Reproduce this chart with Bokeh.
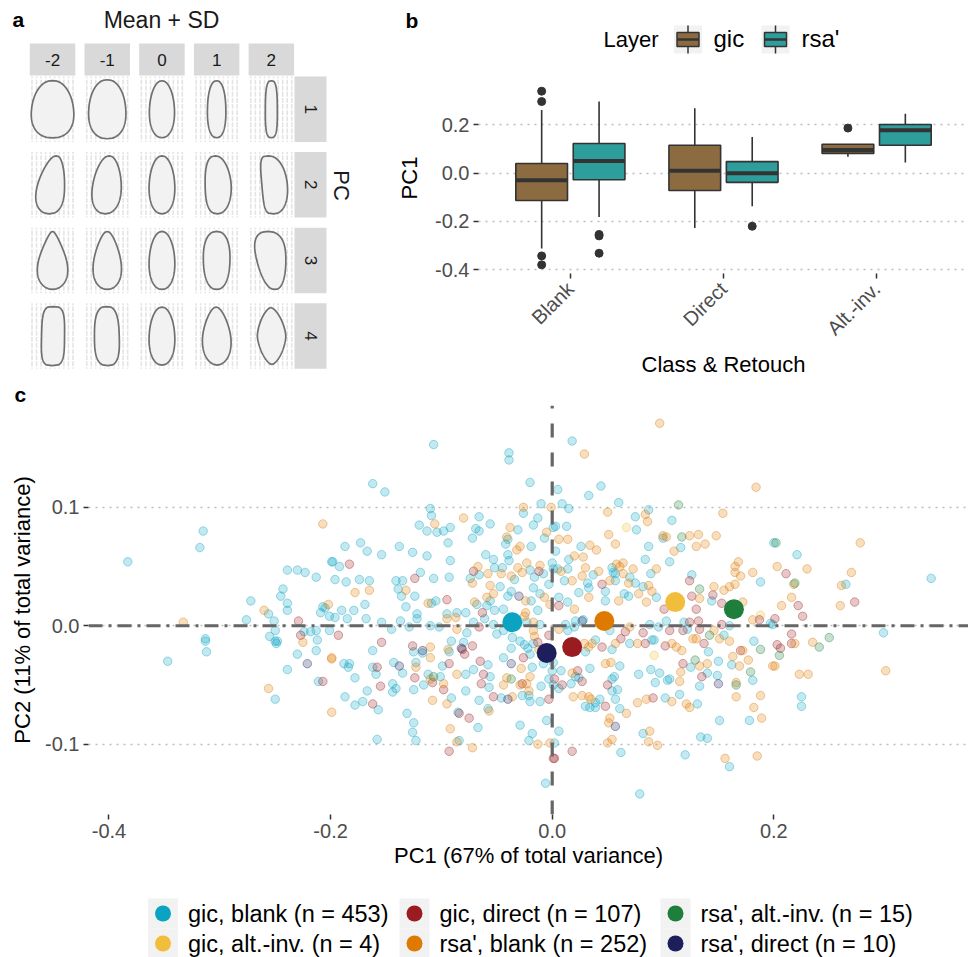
import math
import numpy as np
from bokeh.plotting import figure
from bokeh.models import Range1d, FixedTicker, PrintfTickFormatter
from bokeh.layouts import column, row
from bokeh.embed import file_html
from bokeh.resources import INLINE
from bokeh.core.properties import value

FONT = "Liberation Sans"
TF = value(FONT)

# =================== DATA ===================
# ---- panel a: mean shape +/- SD along PC1..PC4 ----
sd_labels = ["-2", "-1", "0", "1", "2"]
pc_labels = ["1", "2", "3", "4"]
# outline descriptors (rows = PC, cols = SD), in pixels
shape_wl = [[21.0, 18.5, 12.5, 9.2, 6.0],
            [15.0, 14.5, 12.8, 11.5, 9.5],
            [14.0, 13.5, 12.8, 13.3, 14.5],
            [11.0, 12.8, 12.8, 14.0, 14.0]]
shape_wr = [[21.0, 18.5, 12.5, 9.2, 6.0],
            [12.0, 14.0, 12.8, 14.5, 16.0],
            [14.0, 13.5, 12.8, 13.3, 14.5],
            [12.0, 12.0, 12.8, 14.0, 14.5]]
shape_pl = [[2.2, 2.2, 2.1, 2.3, 3.0],
            [2.0, 2.1, 2.1, 2.6, 4.0],
            [1.9, 2.0, 2.1, 2.3, 2.4],
            [3.6, 2.8, 2.1, 1.9, 1.55]]
shape_pr = [[2.2, 2.2, 2.1, 2.3, 3.0],
            [2.4, 2.1, 2.1, 2.0, 2.1],
            [1.9, 2.0, 2.1, 2.3, 2.4],
            [3.6, 2.8, 2.1, 1.9, 1.55]]
shape_taper = [[-0.14, -0.11, -0.10, -0.06, -0.03],
               [-0.30, -0.20, -0.10, -0.05, 0.00],
               [-0.50, -0.35, -0.10, 0.05, 0.25],
               [-0.02, -0.04, -0.10, -0.25, 0.00]]
shape_lean = [[0.0, 0.0, 0.0, 0.0, 0.0],
              [3.5, 2.0, 0.0, -1.0, -2.5],
              [0.0, 0.0, 0.0, 0.0, -3.5],
              [0.5, -0.5, 0.0, -0.5, -0.5]]
shape_hh = [[28.7, 29.5, 28.5, 28.5, 28.5],
            [29.0, 29.0, 29.0, 29.0, 29.0],
            [29.0, 29.0, 29.0, 29.0, 29.0],
            [29.5, 29.5, 29.0, 29.0, 28.5]]

# ---- panel b: boxplot statistics of PC1 ----
box_classes = ["Blank", "Direct", "Alt.-inv."]
layers = ["gic", "rsa'"]
layer_colors = ["#8D6B41", "#2E9E9C"]
gic_lower = [-0.312, -0.227, 0.068]
gic_q1 = [-0.113, -0.072, 0.082]
gic_median = [-0.029, 0.010, 0.096]
gic_q3 = [0.040, 0.116, 0.120]
gic_upper = [0.262, 0.269, 0.120]
rsa_lower = [-0.182, -0.137, 0.044]
rsa_q1 = [-0.027, -0.038, 0.116]
rsa_median = [0.051, 0.000, 0.178]
rsa_q3 = [0.123, 0.048, 0.202]
rsa_upper = [0.297, 0.150, 0.246]
gic_out_class = [0, 0, 0, 0, 2]
gic_out_val = [0.340, 0.297, -0.343, -0.380, 0.187]
rsa_out_class = [0, 0, 0, 1]
rsa_out_val = [-0.254, -0.260, -0.332, -0.220]

# ---- panel c: PCA scores ----
group_labels = ["gic, blank (n = 453)", "gic, alt.-inv. (n = 4)", "gic, direct (n = 107)",
                "rsa', blank (n = 252)", "rsa', alt.-inv. (n = 15)", "rsa', direct (n = 10)"]
group_colors = ["#0AA4C2", "#F1BE3C", "#9B1C20", "#DE7A00", "#1F7E3C", "#1C1F5C"]
mean_pc1 = [-0.036, 0.111, 0.018, 0.047, 0.164, -0.005]
mean_pc2 = [0.003, 0.020, -0.018, 0.004, 0.014, -0.023]

gic_blank = [
    (-0.383, 0.054), (-0.315, 0.080), (-0.318, 0.066), (-0.313, -0.011), (-0.313, -0.013), (-0.312, -0.022),
    (-0.347, -0.030), (-0.272, 0.021), (-0.276, 0.005), (-0.256, 0.010), (-0.251, 0.004), (-0.250, -0.004),
    (-0.255, -0.009), (-0.250, -0.013), (-0.248, -0.013), (-0.249, -0.015), (-0.245, 0.025), (-0.243, 0.031),
    (-0.239, 0.019), (-0.239, 0.013), (-0.239, 0.047), (-0.230, 0.047), (-0.223, 0.045), (-0.213, 0.041),
    (-0.224, -0.005), (-0.218, -0.005), (-0.213, -0.004), (-0.212, -0.012), (-0.230, -0.024), (-0.213, -0.021),
    (-0.239, -0.037), (-0.250, -0.062), (-0.211, -0.047), (-0.199, 0.054), (-0.207, 0.016), (-0.205, 0.015),
    (-0.209, 0.011), (-0.201, 0.008), (-0.201, -0.004),
    (-0.107, 0.153), (-0.039, 0.146), (-0.039, 0.140), (-0.162, 0.120), (-0.151, 0.113), (-0.020, 0.121),
    (-0.010, 0.103), (-0.110, 0.099), (-0.109, 0.093), (-0.026, 0.095), (-0.013, 0.091), (-0.017, 0.085),
    (-0.066, 0.092), (-0.056, 0.086), (-0.069, 0.082), (-0.066, 0.080), (-0.120, 0.085), (-0.113, 0.080),
    (-0.104, 0.079), (-0.098, 0.080), (-0.092, 0.083), (-0.094, 0.070), (-0.072, 0.074), (-0.031, 0.081),
    (-0.040, 0.073), (-0.042, 0.069), (-0.019, 0.067), (-0.007, 0.074), (0.001, 0.083), (-0.187, 0.067),
    (-0.173, 0.070), (-0.167, 0.063), (-0.154, 0.060), (-0.138, 0.067), (-0.126, 0.062), (-0.113, 0.059),
    (-0.092, 0.055), (-0.060, 0.060), (-0.053, 0.056), (-0.040, 0.060), (-0.039, 0.055), (0.000, 0.053),
    (-0.198, 0.054), (-0.192, 0.050), (-0.196, 0.039), (-0.186, 0.037), (-0.174, 0.039), (-0.165, 0.038),
    (-0.141, 0.038), (-0.135, 0.038), (-0.139, 0.031), (-0.136, 0.025), (-0.119, 0.045), (-0.107, 0.040),
    (-0.093, 0.041), (-0.124, 0.025), (-0.109, 0.019), (-0.105, 0.021), (-0.132, 0.016), (-0.169, 0.018),
    (-0.190, 0.013), (-0.179, 0.013), (-0.074, 0.040), (-0.066, 0.043), (-0.052, 0.049), (-0.045, 0.049),
    (-0.034, 0.039), (-0.020, 0.047), (-0.016, 0.041), (-0.008, 0.044), (-0.003, 0.035), (0.001, 0.048),
    (-0.047, 0.033), (-0.037, 0.029), (-0.040, 0.025), (-0.019, 0.021), (-0.017, 0.032), (-0.011, 0.027),
    (-0.056, 0.021), (-0.059, 0.017), (-0.068, 0.018), (-0.052, 0.013), (-0.044, 0.014), (-0.013, 0.013),
    (-0.086, 0.011), (-0.078, 0.011), (-0.095, 0.010), (-0.122, 0.010),
    (-0.196, 0.007), (-0.185, 0.006), (-0.168, 0.006), (-0.154, 0.003), (-0.145, -0.003), (-0.137, 0.004),
    (-0.129, -0.001), (-0.122, 0.006), (-0.110, 0.000), (-0.102, -0.001), (-0.077, -0.006), (-0.071, 0.003),
    (-0.061, 0.006), (-0.053, 0.001), (-0.050, -0.007), (-0.044, -0.004), (-0.011, 0.001), (-0.188, -0.032),
    (-0.183, -0.032), (-0.184, -0.035), (-0.178, -0.044), (-0.162, -0.021), (-0.162, -0.035), (-0.159, -0.041),
    (-0.167, -0.055), (-0.187, -0.060), (-0.178, -0.067), (-0.171, -0.064), (-0.157, -0.071), (-0.143, -0.031),
    (-0.135, -0.040), (-0.144, -0.049), (-0.141, -0.053), (-0.144, -0.056), (-0.125, -0.022), (-0.117, -0.023),
    (-0.123, -0.031), (-0.125, -0.054), (-0.116, -0.050), (-0.112, -0.041), (-0.101, -0.043), (-0.099, -0.034),
    (-0.093, -0.022), (-0.091, -0.013), (-0.080, -0.014), (-0.078, -0.041), (-0.071, -0.037), (-0.058, -0.033),
    (-0.056, -0.043), (-0.078, -0.055), (-0.091, -0.061), (-0.057, -0.052), (-0.066, -0.063), (-0.046, -0.061),
    (-0.044, -0.027), (-0.037, -0.019), (-0.036, -0.010), (-0.029, -0.013), (-0.025, -0.016), (-0.022, -0.019),
    (-0.020, -0.024), (-0.018, -0.035), (-0.027, -0.059), (-0.021, -0.059), (-0.020, -0.064), (-0.011, -0.064),
    (-0.010, -0.051), (-0.017, -0.015), (-0.008, -0.032), (-0.003, -0.045), (0.001, -0.031), (0.000, -0.038),
    (-0.085, -0.073), (-0.067, -0.086), (-0.058, -0.070), (-0.131, -0.074), (-0.125, -0.082), (-0.126, -0.090),
    (-0.123, -0.097), (-0.158, -0.096), (-0.084, -0.097), (-0.029, -0.084), (-0.018, -0.091), (-0.021, -0.097),
    (-0.005, -0.080), (-0.006, -0.133), (-0.023, 0.003),
    (0.018, 0.156), (0.005, 0.115), (0.044, 0.118), (0.033, 0.110), (0.009, 0.103), (0.015, 0.099),
    (0.060, 0.104), (0.087, 0.098), (0.075, 0.092), (0.076, 0.081), (0.108, 0.089), (0.003, 0.084),
    (0.013, 0.084), (0.100, 0.074), (0.116, 0.066), (0.087, 0.067), (0.026, 0.067), (0.003, 0.063),
    (0.015, 0.056), (0.084, 0.056), (0.106, 0.054), (0.005, 0.048), (0.014, 0.048), (0.054, 0.049),
    (0.055, 0.045), (0.057, 0.044), (0.089, 0.044), (0.037, 0.043), (0.011, 0.038), (0.032, 0.036),
    (0.057, 0.038), (0.070, 0.041), (0.075, 0.036), (0.082, 0.033), (0.094, 0.024), (0.126, 0.043),
    (0.188, 0.037), (0.024, 0.028), (0.033, 0.032), (0.048, 0.029), (0.065, 0.027), (0.069, 0.025),
    (0.048, 0.021), (0.014, 0.020), (0.006, 0.024), (0.144, 0.021), (0.200, 0.070),
    (0.014, -0.004), (0.020, -0.001), (0.021, 0.004), (0.028, 0.005), (0.012, 0.001), (0.030, -0.022),
    (0.039, -0.012), (0.054, -0.020), (0.052, -0.004), (0.070, -0.015), (0.090, -0.012), (0.092, -0.012),
    (0.088, 0.001), (0.096, -0.001), (0.103, 0.004), (0.119, 0.003), (0.122, -0.003), (0.141, -0.022),
    (0.155, -0.008), (0.160, 0.000), (0.182, -0.013), (0.197, 0.002), (0.125, -0.035), (0.150, -0.030),
    (0.162, -0.033), (0.140, -0.040), (0.149, -0.042), (0.181, -0.046), (0.008, -0.038), (0.034, -0.036),
    (0.061, -0.034), (0.078, -0.041), (0.089, -0.037), (0.097, -0.040), (0.093, -0.048), (0.104, -0.046),
    (0.106, -0.045), (0.133, -0.051), (0.021, -0.043), (0.024, -0.044), (0.017, -0.049), (0.006, -0.053),
    (0.001, -0.050), (0.056, -0.043), (0.054, -0.045), (0.054, -0.055), (0.059, -0.054), (0.057, -0.062),
    (0.043, -0.062), (0.039, -0.065), (0.030, -0.068), (0.034, -0.069), (0.039, -0.069), (0.061, -0.070),
    (0.102, -0.061), (0.115, -0.058), (0.131, -0.066), (0.178, -0.080), (0.151, -0.080), (0.006, -0.089),
    (0.082, -0.091), (0.062, -0.107), (0.120, -0.109), (0.134, -0.094), (0.140, -0.095), (0.160, -0.119),
    (0.079, -0.142), (0.002, -0.099),
    (0.221, 0.060), (0.199, 0.001), (0.265, 0.035), (0.342, 0.040), (0.299, -0.006), (0.225, -0.060),
    (0.225, -0.068),
]
gic_altinv = [(0.067, 0.083), (0.092, -0.025), (0.188, 0.009)]
gic_direct = [
    (-0.229, 0.004), (-0.227, -0.008), (-0.207, -0.047), (-0.183, 0.052), (-0.124, 0.040), (-0.095, 0.022),
    (-0.071, 0.046), (-0.012, 0.046), (-0.063, 0.011), (-0.066, -0.001), (-0.003, -0.008), (-0.193, -0.008),
    (-0.154, -0.014), (-0.158, -0.035), (-0.155, -0.051), (-0.162, -0.066), (-0.126, -0.017), (-0.124, -0.044),
    (-0.108, -0.048), (-0.093, -0.032), (-0.081, -0.020), (-0.079, -0.024), (-0.072, -0.017), (-0.065, -0.030),
    (-0.062, -0.041), (-0.098, -0.054), (-0.064, -0.049), (-0.053, -0.060), (-0.026, -0.027), (-0.027, -0.049),
    (-0.003, -0.062), (-0.013, -0.014), (-0.084, -0.074), (-0.075, -0.078), (-0.093, -0.106), (0.001, -0.112),
    (0.045, 0.035), (0.124, 0.038), (0.006, 0.017), (0.101, 0.014), (0.126, 0.025), (0.145, 0.026),
    (0.153, 0.019), (0.130, 0.014), (0.045, -0.018), (0.062, -0.011), (0.066, -0.005), (0.082, -0.006),
    (0.084, -0.015), (0.106, -0.004), (0.102, -0.017), (0.118, -0.004), (0.124, 0.003), (0.132, 0.004),
    (0.133, -0.003), (0.137, -0.015), (0.153, 0.001), (0.170, -0.021), (0.187, 0.005), (0.118, -0.032),
    (0.135, -0.043), (0.023, -0.038), (0.027, -0.047), (0.009, -0.050), (0.002, -0.045), (0.050, -0.050),
    (0.048, -0.068), (0.091, -0.061), (0.018, -0.106), (0.002, -0.112), (0.211, 0.044), (0.222, 0.017),
    (0.226, 0.008), (0.201, 0.006), (0.216, -0.007), (0.216, -0.015), (0.203, -0.016), (0.206, -0.019),
    (0.273, 0.020),
]
rsa_blank = [
    (-0.333, 0.003), (-0.260, 0.013), (-0.225, -0.014), (-0.256, -0.053), (-0.207, 0.086), (-0.202, 0.018),
    (-0.199, -0.028), (-0.199, -0.073),
    (-0.026, 0.100), (-0.001, 0.100), (-0.080, 0.091), (-0.106, 0.086), (-0.038, 0.083), (-0.041, 0.075),
    (-0.032, 0.064), (-0.029, 0.067), (-0.005, 0.079), (-0.023, 0.053), (-0.011, 0.051), (-0.178, 0.028),
    (-0.165, 0.030), (-0.132, 0.030), (-0.112, 0.019), (-0.067, 0.050), (-0.072, 0.036), (-0.058, 0.044),
    (-0.046, 0.044), (-0.037, 0.042), (-0.031, 0.049), (-0.027, 0.045), (-0.056, 0.034), (-0.024, 0.021),
    (-0.007, 0.024), (-0.002, 0.018), (-0.059, 0.024), (-0.053, 0.027), (-0.070, 0.020), (-0.024, 0.011),
    (-0.095, 0.006), (-0.087, 0.007), (-0.086, -0.003), (-0.025, 0.008), (-0.017, -0.004), (-0.016, -0.009),
    (-0.199, -0.027), (-0.110, -0.018), (-0.110, -0.027), (-0.123, -0.035), (-0.110, -0.045), (-0.098, -0.049),
    (-0.094, -0.020), (-0.086, -0.041), (-0.095, -0.066), (-0.108, -0.063), (-0.036, -0.060), (-0.044, -0.050),
    (-0.041, -0.044), (-0.028, -0.036), (-0.029, -0.050), (-0.023, -0.049), (-0.020, -0.043), (-0.021, -0.055),
    (-0.012, -0.020), (-0.057, -0.072), (-0.092, -0.087), (-0.086, -0.098), (-0.072, -0.103), (-0.013, -0.100),
    (-0.002, -0.099), (-0.017, 0.003),
    (0.097, 0.171), (0.029, 0.145), (0.184, 0.117), (0.050, 0.096), (0.154, 0.095), (0.084, 0.094),
    (0.086, 0.088), (0.006, 0.073), (0.014, 0.073), (0.051, 0.077), (0.057, 0.069), (0.100, 0.076),
    (0.103, 0.075), (0.124, 0.076), (0.132, 0.077), (0.148, 0.076), (0.130, 0.067), (0.138, 0.069),
    (0.110, 0.063), (0.034, 0.068), (0.040, 0.064), (0.020, 0.059), (0.028, 0.058), (0.030, 0.049),
    (0.042, 0.046), (0.058, 0.052), (0.061, 0.050), (0.064, 0.053), (0.064, 0.044), (0.073, 0.048),
    (0.094, 0.048), (0.027, 0.042), (0.008, 0.046), (0.018, 0.038), (0.052, 0.038), (0.069, 0.036),
    (0.087, 0.034), (0.090, 0.029), (0.078, 0.027), (0.146, 0.033), (0.155, 0.030), (0.160, 0.033),
    (0.165, 0.035), (0.165, 0.050), (0.168, 0.054), (0.165, 0.045), (0.170, 0.042), (0.181, 0.045),
    (0.060, 0.021), (0.033, 0.024), (0.020, 0.014), (0.085, 0.020), (0.133, 0.023), (0.172, 0.020),
    (0.006, -0.003), (0.029, -0.015), (0.033, -0.018), (0.036, -0.015), (0.057, -0.015), (0.070, -0.001),
    (0.077, -0.015), (0.108, -0.015), (0.112, -0.018), (0.127, -0.011), (0.130, -0.011), (0.146, -0.004),
    (0.151, -0.011), (0.160, -0.013), (0.172, -0.021), (0.181, 0.005), (0.117, -0.021), (0.133, -0.034),
    (0.140, -0.032), (0.163, -0.026), (0.169, -0.034), (0.177, -0.029), (0.116, -0.039), (0.166, -0.048),
    (0.199, -0.034), (0.048, -0.032), (0.053, -0.031), (0.115, -0.047), (0.018, -0.040), (0.019, -0.060),
    (0.027, -0.059), (0.033, -0.060), (0.035, -0.062), (0.067, -0.074), (0.077, -0.065), (0.085, -0.062),
    (0.108, -0.064), (0.121, -0.066), (0.124, -0.069), (0.166, -0.060), (0.188, -0.059), (0.182, -0.069),
    (0.189, -0.078), (0.052, -0.078), (0.051, -0.082), (0.088, -0.089), (0.050, -0.099), (0.054, -0.096),
    (0.087, -0.098), (0.095, -0.101), (0.156, -0.112), (0.185, -0.110),
    (0.203, 0.050), (0.230, 0.048), (0.218, 0.035), (0.216, 0.024), (0.207, 0.017), (0.278, 0.070),
    (0.270, 0.045), (0.261, 0.034), (0.260, 0.017), (0.219, -0.015), (0.235, -0.014), (0.201, -0.034),
    (0.223, -0.041), (0.231, -0.041), (0.301, -0.038),
]
rsa_altinv = [
    (-0.107, -0.043), (-0.037, -0.045), (0.114, 0.102), (0.117, 0.075), (0.133, 0.031), (0.142, -0.008),
    (0.188, -0.020), (0.129, -0.029), (0.179, -0.039), (0.166, -0.050), (0.202, 0.070), (0.219, 0.036),
    (0.205, -0.025), (0.241, -0.018), (0.250, -0.010),
]
rsa_direct = [
    (-0.221, -0.032), (-0.030, 0.025), (-0.138, -0.034), (-0.117, -0.021), (-0.040, -0.062), (-0.037, -0.032),
    (0.057, -0.085), (0.027, 0.004), (0.150, -0.049), (-0.082, -0.019),
]
group_points = [gic_blank, gic_altinv, gic_direct, rsa_blank, rsa_altinv, rsa_direct]
ref_pc1 = 0.0
ref_pc2 = 0.0

# =================== HELPERS ===================
def canvas(w, h, x0, x1, y0, y1):
    p = figure(width=w, height=h, x_range=Range1d(x0, x1), y_range=Range1d(y0, y1),
               output_backend="svg", toolbar_location=None, min_border=0,
               x_axis_location=None, y_axis_location=None, frame_align=False)
    p.grid.visible = False
    p.outline_line_color = None
    p.background_fill_color = "white"
    p.border_fill_color = "white"
    return p


def outline(cx, cy, hh, wl, wr, pl, pr, taper, lean, n=90):
    s = np.linspace(-1.0, 1.0, n)
    prof_r = (1.0 - np.abs(s) ** pr) ** (1.0 / pr)
    prof_l = (1.0 - np.abs(s) ** pl) ** (1.0 / pl)
    tap = 1.0 + taper * s
    c = cx + lean * s
    xr = c + wr * prof_r * tap
    xl = c - wl * prof_l * tap
    ys = cy + hh * s
    return list(np.concatenate([xr, xl[::-1]])), list(np.concatenate([ys, ys[::-1]]))

# =================== PANEL A ===================
AW = 357
pa = canvas(AW, 380, 0, AW, 0, 380)
def Ya(py):
    return 380.0 - py

PW, PH = 45.5, 65.5
col_x0 = [29.3 + 54.7 * j for j in range(len(sd_labels))]
row_top = [76.0 + 75.6 * i for i in range(len(pc_labels))]

pa.quad(left=col_x0, right=[x + PW for x in col_x0], top=[Ya(43)] * 5, bottom=[Ya(75)] * 5,
        fill_color="#D9D9D9", line_color=None)
pa.text(x=[x + PW / 2 for x in col_x0], y=[Ya(59)] * 5, text=sd_labels, text_font=TF,
        text_font_size="17px", text_color="#1A1A1A", text_align="center", text_baseline="middle")
pa.quad(left=[294] * 4, right=[326] * 4, top=[Ya(t) for t in row_top], bottom=[Ya(t + PH) for t in row_top],
        fill_color="#D9D9D9", line_color=None)
pa.text(x=[310] * 4, y=[Ya(t + PH / 2) for t in row_top], text=pc_labels, text_font=TF,
        text_font_size="17px", text_color="#1A1A1A", text_align="center", text_baseline="middle",
        angle=-math.pi / 2)

vx0, vx1, vy0, vy1 = [], [], [], []
hx0, hx1, hy0, hy1 = [], [], [], []
for i in range(4):
    for j in range(5):
        x0 = col_x0[j]
        t = row_top[i]
        for k in range(10):
            xx = x0 + 2.2 + 4.55 * k
            vx0.append(xx); vx1.append(xx); vy0.append(Ya(t)); vy1.append(Ya(t + PH))
        for m in range(11):
            yy = Ya(t + 2.5 + 6.1 * m)
            hx0.append(x0); hx1.append(x0 + PW); hy0.append(yy); hy1.append(yy)
pa.segment(vx0, vy0, vx1, vy1, line_color="#E4E4E4", line_width=1.6)
pa.segment(hx0, hy0, hx1, hy1, line_color="white", line_width=1.3)

xs_all, ys_all = [], []
for i in range(4):
    for j in range(5):
        cx = col_x0[j] + PW / 2
        cy = Ya(row_top[i] + PH / 2)
        xs, ys = outline(cx, cy, shape_hh[i][j], shape_wl[i][j], shape_wr[i][j], shape_pl[i][j],
                         shape_pr[i][j], shape_taper[i][j], shape_lean[i][j])
        xs_all.append(xs); ys_all.append(ys)
pa.patches(xs_all, ys_all, fill_color="#F2F2F2", line_color="#707070", line_width=1.7)

pa.text(x=[12], y=[Ya(19)], text=["a"], text_font=TF, text_font_size="21px", text_font_style="bold",
        text_align="left", text_baseline="middle", text_color="black")
pa.text(x=[161], y=[Ya(19)], text=["Mean + SD"], text_font=TF, text_font_size="23px",
        text_align="center", text_baseline="middle", text_color="#1A1A1A")
pa.text(x=[341], y=[Ya(185)], text=["PC"], text_font=TF, text_font_size="22px",
        text_align="center", text_baseline="middle", text_color="#1A1A1A", angle=-math.pi / 2)

# =================== PANEL B header (label + legend) ===================
BW = 968 - AW
pbh = canvas(BW, 70, AW, 968, 0, 70)
def Yh(py):
    return 70.0 - py

pbh.text(x=[405], y=[Yh(20)], text=["b"], text_font=TF, text_font_size="21px", text_font_style="bold",
         text_align="left", text_baseline="middle", text_color="black")
pbh.text(x=[603], y=[Yh(39)], text=["Layer"], text_font=TF, text_font_size="22px",
         text_align="left", text_baseline="middle", text_color="black")
key_cx = [687.5, 775.0]
key_text_x = [713, 801]
for k in range(2):
    kc = key_cx[k]
    pbh.rect(x=[kc], y=[Yh(39)], width=28, height=28, fill_color="#F2F2F2", line_color=None)
    pbh.segment(x0=[kc, kc], y0=[Yh(25), Yh(46)], x1=[kc, kc], y1=[Yh(32), Yh(53)],
                line_color="#333333", line_width=1.5)
    pbh.rect(x=[kc], y=[Yh(39)], width=22, height=14, fill_color=layer_colors[k],
             line_color="#333333", line_width=1.5)
    pbh.segment(x0=[kc - 11], y0=[Yh(39)], x1=[kc + 11], y1=[Yh(39)], line_color="#333333", line_width=2.5)
    pbh.text(x=[key_text_x[k]], y=[Yh(38)], text=[layers[k]], text_font=TF, text_font_size="24px",
             text_align="left", text_baseline="middle", text_color="black")

# =================== PANEL B main ===================
pb = figure(width=BW, height=310, x_range=Range1d(0.4, 3.6), y_range=Range1d(-0.416, 0.376),
            output_backend="svg", toolbar_location=None, frame_align=False,
            min_border_left=478 - AW, min_border_right=0, min_border_top=12, min_border_bottom=104)
pb.outline_line_color = None
pb.xgrid.visible = False
pb.ygrid.grid_line_color = "#BDBDBD"
pb.ygrid.grid_line_dash = "2 5"
pb.ygrid.grid_line_width = 1.5
pb.yaxis.ticker = FixedTicker(ticks=[-0.4, -0.2, 0.0, 0.2])
pb.yaxis.formatter = PrintfTickFormatter(format="%.1f")
pb.xaxis.ticker = FixedTicker(ticks=[1, 2, 3])
pb.xaxis.major_label_overrides = {1: box_classes[0], 2: box_classes[1], 3: box_classes[2]}
pb.xaxis.major_label_orientation = math.pi / 4
pb.xaxis.axis_label = "Class & Retouch"
pb.yaxis.axis_label = "PC1"
for ax in [pb.xaxis[0], pb.yaxis[0]]:
    ax.axis_line_color = None
    ax.major_tick_line_color = "#333333"
    ax.major_tick_line_width = 1.5
    ax.major_tick_out = 5
    ax.major_tick_in = 0
    ax.minor_tick_line_color = None
    ax.major_label_text_font = FONT
    ax.major_label_text_font_size = "20px"
    ax.major_label_text_color = "#4D4D4D"
    ax.axis_label_text_font = FONT
    ax.axis_label_text_font_size = "22px"
    ax.axis_label_text_font_style = "normal"
    ax.axis_label_text_color = "black"
pb.yaxis.major_label_standoff = 4
pb.yaxis.axis_label_standoff = 10
pb.xaxis.major_label_standoff = 7
pb.xaxis.axis_label_standoff = 2

dodge = 0.1875
box_w = 0.3375
stats = [(gic_lower, gic_q1, gic_median, gic_q3, gic_upper), (rsa_lower, rsa_q1, rsa_median, rsa_q3, rsa_upper)]
outs = [(gic_out_class, gic_out_val), (rsa_out_class, rsa_out_val)]
for k in range(2):
    lo, q1, md, q3, up = stats[k]
    xc = [i + 1 + (2 * k - 1) * dodge for i in range(len(box_classes))]
    pb.segment(x0=xc, y0=q3, x1=xc, y1=up, line_color="#333333", line_width=1.6)
    pb.segment(x0=xc, y0=q1, x1=xc, y1=lo, line_color="#333333", line_width=1.6)
    pb.quad(left=[x - box_w / 2 for x in xc], right=[x + box_w / 2 for x in xc], bottom=q1, top=q3,
            fill_color=layer_colors[k], line_color="#333333", line_width=1.6)
    pb.segment(x0=[x - box_w / 2 for x in xc], y0=md, x1=[x + box_w / 2 for x in xc], y1=md,
               line_color="#333333", line_width=4)
    oc, ov = outs[k]
    pb.scatter(x=[c + 1 + (2 * k - 1) * dodge for c in oc], y=ov, size=8, fill_color="#333333",
               line_color="#333333")

# =================== PANEL C ===================
pc = figure(width=968, height=490, x_range=Range1d(-0.4185, 0.3757), y_range=Range1d(-0.1594, 0.1860),
            output_backend="svg", toolbar_location=None, frame_align=False, title="c",
            min_border_left=88, min_border_right=0, min_border_top=18, min_border_bottom=55)
pc.title.text_font = FONT
pc.title.text_font_size = "21px"
pc.title.text_font_style = "bold"
pc.title.text_color = "black"
pc.title.align = "left"
pc.title.offset = -74
pc.title.standoff = 0
pc.outline_line_color = None
pc.xgrid.visible = False
pc.ygrid.grid_line_color = "#BDBDBD"
pc.ygrid.grid_line_dash = "2 5"
pc.ygrid.grid_line_width = 1.5
pc.xaxis.ticker = FixedTicker(ticks=[-0.4, -0.2, 0.0, 0.2])
pc.yaxis.ticker = FixedTicker(ticks=[-0.1, 0.0, 0.1])
pc.xaxis.formatter = PrintfTickFormatter(format="%.1f")
pc.yaxis.formatter = PrintfTickFormatter(format="%.1f")
pc.xaxis.axis_label = "PC1 (67% of total variance)"
pc.yaxis.axis_label = "PC2 (11% of total variance)"
for ax in [pc.xaxis[0], pc.yaxis[0]]:
    ax.axis_line_color = None
    ax.major_tick_line_color = "#333333"
    ax.major_tick_line_width = 1.5
    ax.major_tick_out = 5
    ax.major_tick_in = 0
    ax.minor_tick_line_color = None
    ax.major_label_text_font = FONT
    ax.major_label_text_font_size = "20px"
    ax.major_label_text_color = "#4D4D4D"
    ax.axis_label_text_font = FONT
    ax.axis_label_text_font_size = "22px"
    ax.axis_label_text_font_style = "normal"
    ax.axis_label_text_color = "black"
pc.xaxis.major_label_standoff = 4
pc.xaxis.axis_label_standoff = 2
pc.yaxis.major_label_standoff = 4
pc.yaxis.axis_label_standoff = 7

for g in range(len(group_points)):
    pts = group_points[g]
    pc.scatter(x=[p[0] for p in pts], y=[p[1] for p in pts], size=8.5,
               fill_color=group_colors[g], fill_alpha=0.25,
               line_color=group_colors[g], line_alpha=0.38, line_width=1)

xr0, xr1 = pc.x_range.start, pc.x_range.end
yr0, yr1 = pc.y_range.start, pc.y_range.end
pc.line(x=[xr0, xr1], y=[ref_pc2, ref_pc2], line_color="#666666", line_width=3, line_dash="14 6 3 6")
pc.line(x=[ref_pc1, ref_pc1], y=[yr0, yr1], line_color="#666666", line_width=3.2, line_dash="14 15")

pc.scatter(x=mean_pc1, y=mean_pc2, size=20, fill_color=group_colors, line_color=None)

# =================== PANEL C legend ===================
pd_ = canvas(968, 87, 0, 968, 0, 87)
def Yd(py):
    return 957.0 - py

leg_col_x = [162.5, 414.0, 675.0]
leg_row_y = [913.0, 943.0]
kx = [leg_col_x[g // 2] for g in range(6)]
ky = [Yd(leg_row_y[g % 2]) for g in range(6)]
pd_.rect(x=kx, y=ky, width=30, height=30, fill_color="#F2F2F2", line_color=None)
pd_.scatter(x=kx, y=ky, size=16, fill_color=group_colors, line_color=None)
pd_.text(x=[x + 25 for x in kx], y=ky, text=group_labels, text_font=TF, text_font_size="23.5px",
         text_align="left", text_baseline="middle", text_color="black")

layout = column(row(pa, column(pbh, pb, spacing=0), spacing=0), pc, pd_, spacing=0)
open("out.html", "w").write(file_html(layout, INLINE))
